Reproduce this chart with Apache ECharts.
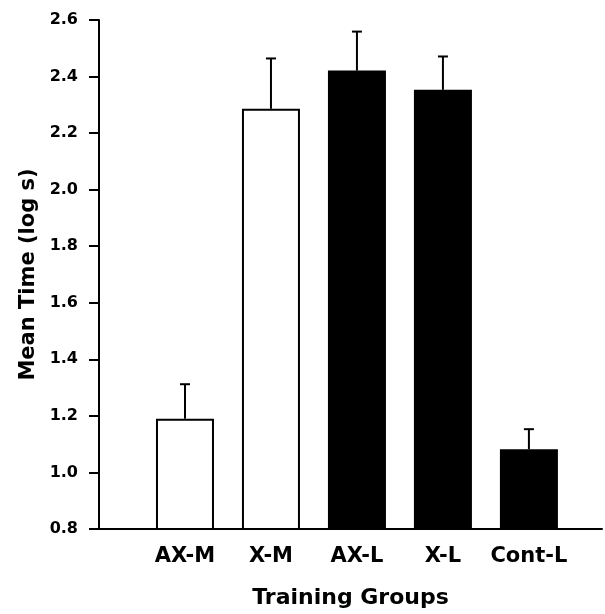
<!DOCTYPE html>
<html>
<head>
<meta charset="utf-8">
<script src="https://cdn.jsdelivr.net/npm/echarts@6/dist/echarts.min.js"></script>
<style>
html,body{margin:0;padding:0;background:#fff;}
#chart{width:605px;height:614px;}
</style>
</head>
<body>
<div id="chart"></div>
<script>
var categories = ['AX-M', 'X-M', 'AX-L', 'X-L', 'Cont-L'];
var means = [1.19, 2.286, 2.421, 2.353, 1.082];
var upper = [1.312, 2.464, 2.559, 2.471, 1.153];
var filled = [false, false, true, true, true];
var yTicks = [0.8, 1.0, 1.2, 1.4, 1.6, 1.8, 2.0, 2.2, 2.4, 2.6];

var FONT = 'DejaVu Sans';
var chart = echarts.init(document.getElementById('chart'), null, {renderer: 'canvas'});

var barData = means.map(function (m, i) {
  return {
    value: [i, m],
    itemStyle: {
      color: filled[i] ? '#000' : '#fff',
      borderColor: '#000',
      borderWidth: 2
    }
  };
});
var errData = means.map(function (m, i) { return [i, m, upper[i]]; });

chart.setOption({
  animation: false,
  backgroundColor: '#fff',
  grid: {left: 99, right: 2, top: 20, bottom: 84, containLabel: false},
  xAxis: {
    type: 'value',
    min: -1,
    max: 4.85,
    interval: 1,
    name: 'Training Groups',
    nameLocation: 'middle',
    nameGap: 58,
    nameTextStyle: {fontFamily: FONT, fontWeight: 'bold', fontSize: 22, color: '#000'},
    axisLine: {show: true, onZero: false, lineStyle: {color: '#000', width: 2}},
    axisTick: {show: false},
    splitLine: {show: false},
    axisLabel: {
      margin: 17,
      fontFamily: FONT, fontWeight: 'bold', fontSize: 21, color: '#000',
      showMinLabel: true, showMaxLabel: true,
      formatter: function (v) {
        var r = Math.round(v);
        if (Math.abs(v - r) < 1e-6 && r >= 0 && r < categories.length) return categories[r];
        return '';
      }
    }
  },
  yAxis: {
    type: 'value',
    min: yTicks[0],
    max: yTicks[yTicks.length - 1],
    interval: 0.2,
    name: 'Mean Time (log s)',
    nameLocation: 'middle',
    nameGap: 60,
    nameTextStyle: {fontFamily: FONT, fontWeight: 'bold', fontSize: 21, color: '#000'},
    axisLine: {show: true, onZero: false, lineStyle: {color: '#000', width: 2}},
    axisTick: {show: true, length: 10, inside: false, lineStyle: {color: '#000', width: 2}},
    splitLine: {show: false},
    axisLabel: {
      margin: 21,
      fontFamily: FONT, fontWeight: 'bold', fontSize: 16, color: '#000',
      formatter: function (v) { return v.toFixed(1); }
    }
  },
  series: [
    {
      type: 'bar',
      data: barData,
      barWidth: 58,
      z: 2
    },
    {
      type: 'custom',
      data: errData,
      z: 3,
      renderItem: function (params, api) {
        var x = api.value(0);
        var p0 = api.coord([x, api.value(1)]);
        var p1 = api.coord([x, api.value(2)]);
        var half = 5;
        var style = {stroke: '#000', lineWidth: 2};
        return {
          type: 'group',
          children: [
            {type: 'line', shape: {x1: p0[0], y1: p0[1], x2: p1[0], y2: p1[1]}, style: style},
            {type: 'line', shape: {x1: p1[0] - half, y1: p1[1], x2: p1[0] + half, y2: p1[1]}, style: style}
          ]
        };
      }
    }
  ]
});
</script>
</body>
</html>
